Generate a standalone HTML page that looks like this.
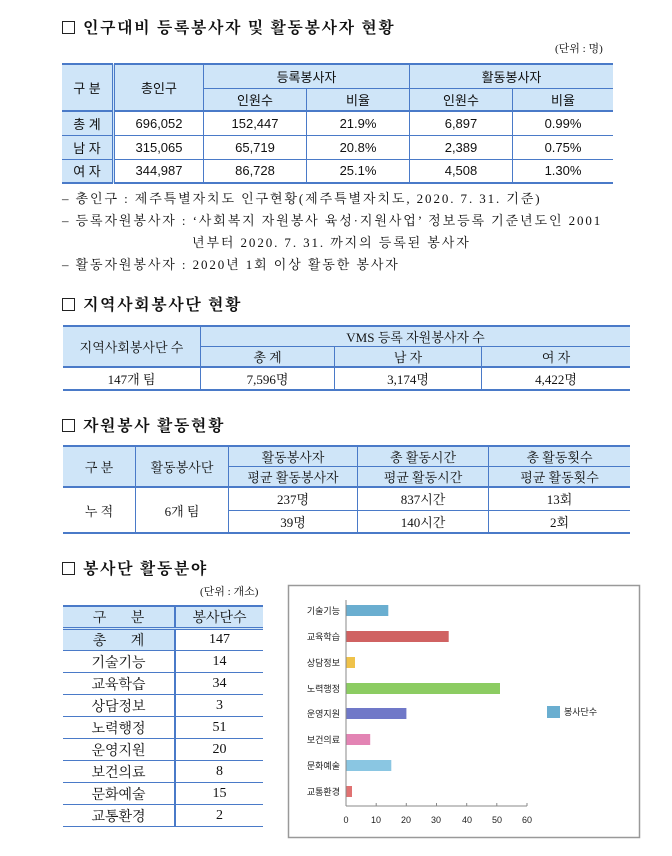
<!DOCTYPE html>
<html><head><meta charset="utf-8"><style>
body{margin:0;width:672px;height:856px;background:#fff;position:relative;overflow:hidden;font-family:"Liberation Serif","Noto Serif CJK SC",serif;color:#111}
.a{position:absolute;white-space:nowrap}
.h{font-size:16px;font-weight:bold;font-family:"Liberation Serif","Noto Serif CJK SC",serif;letter-spacing:1.6px}
.h:before{content:"";display:inline-block;width:11px;height:11px;border:1.3px solid #222;margin-right:8px;vertical-align:-1px}
table{position:absolute;border-collapse:collapse;font-size:13px;text-align:center}
td{border:1px solid #4a7ac8;padding:0}
.hd{background:#cfe5f8}
.s{font-family:"Liberation Sans","Noto Sans CJK KR",sans-serif}
.nt{font-size:13px;letter-spacing:1.9px}
</style></head><body>
<div class="a h" style="left:62px;top:15px">인구대비 등록봉사자 및 활동봉사자 현황</div>
<div class="a" style="left:555px;top:40px;font-size:11px">(단위 : 명)</div>
<table class="s" style="left:62px;top:63px;width:551px;border-top:2px solid #4a7ac8;border-bottom:2px solid #4a7ac8">
<tr style="height:24px"><td class="hd" rowspan="2" style="width:50px;border-right:3px double #4a7ac8;border-left:none">구 분</td><td class="hd" rowspan="2" style="width:88px">총인구</td><td class="hd" colspan="2">등록봉사자</td><td class="hd" colspan="2" style="border-right:none">활동봉사자</td></tr>
<tr style="height:23px"><td class="hd" style="width:102px">인원수</td><td class="hd" style="width:102px">비율</td><td class="hd" style="width:102px">인원수</td><td class="hd" style="border-right:none">비율</td></tr>
<tr style="height:24px;border-top:2px solid #4a7ac8"><td class="hd" style="border-right:3px double #4a7ac8;border-left:none">총 계</td><td>696,052</td><td>152,447</td><td>21.9%</td><td>6,897</td><td style="border-right:none">0.99%</td></tr>
<tr style="height:24px"><td class="hd" style="border-right:3px double #4a7ac8;border-left:none">남 자</td><td>315,065</td><td>65,719</td><td>20.8%</td><td>2,389</td><td style="border-right:none">0.75%</td></tr>
<tr style="height:24px"><td class="hd" style="border-right:3px double #4a7ac8;border-left:none">여 자</td><td>344,987</td><td>86,728</td><td>25.1%</td><td>4,508</td><td style="border-right:none">1.30%</td></tr>
</table>
<div class="a nt" style="left:62px;top:188px">– 총인구 : 제주특별자치도 인구현황(제주특별자치도, 2020. 7. 31. 기준)</div>
<div class="a nt" style="left:62px;top:210px">– 등록자원봉사자 : ‘사회복지 자원봉사 육성·지원사업’ 정보등록 기준년도인 2001</div>
<div class="a nt" style="left:192px;top:232px">년부터 2020. 7. 31. 까지의 등록된 봉사자</div>
<div class="a nt" style="left:62px;top:254px">– 활동자원봉사자 : 2020년 1회 이상 활동한 봉사자</div>

<div class="a h" style="left:62px;top:292px">지역사회봉사단 현황</div>
<table style="left:63px;top:325px;width:567px;border-top:2px solid #4a7ac8;border-bottom:2px solid #4a7ac8">
<tr style="height:18px"><td class="hd" rowspan="2" style="width:137px;border-left:none">지역사회봉사단 수</td><td class="hd" colspan="3" style="border-right:none">VMS 등록 자원봉사자 수</td></tr>
<tr style="height:19px"><td class="hd" style="width:133px">총 계</td><td class="hd" style="width:146px">남 자</td><td class="hd" style="border-right:none">여 자</td></tr>
<tr style="height:23px;border-top:2px solid #4a7ac8"><td style="border-left:none">147개 팀</td><td>7,596명</td><td>3,174명</td><td style="border-right:none">4,422명</td></tr>
</table>

<div class="a h" style="left:62px;top:413px">자원봉사 활동현황</div>
<table style="left:63px;top:445px;width:567px;border-top:2px solid #4a7ac8;border-bottom:2px solid #4a7ac8">
<tr style="height:19px"><td class="hd" rowspan="2" style="width:72px;border-left:none">구 분</td><td class="hd" rowspan="2" style="width:92px">활동봉사단</td><td class="hd" style="width:128px">활동봉사자</td><td class="hd" style="width:130px">총 활동시간</td><td class="hd" style="border-right:none">총 활동횟수</td></tr>
<tr style="height:19px"><td class="hd">평균 활동봉사자</td><td class="hd">평균 활동시간</td><td class="hd" style="border-right:none">평균 활동횟수</td></tr>
<tr style="height:23px;border-top:2px solid #4a7ac8"><td rowspan="2" style="border-left:none">누 적</td><td rowspan="2">6개 팀</td><td>237명</td><td>837시간</td><td style="border-right:none">13회</td></tr>
<tr style="height:23px"><td>39명</td><td>140시간</td><td style="border-right:none">2회</td></tr>
</table>

<div class="a h" style="left:62px;top:556px">봉사단 활동분야</div>
<div class="a" style="left:200px;top:583px;font-size:11px">(단위 : 개소)</div>
<table style="left:63px;top:605px;width:200px;font-size:14px;border-top:2px solid #4a7ac8">
<tr style="height:21px"><td class="hd" style="width:111px;border-left:none;border-right:2px solid #4a7ac8">구 &nbsp; &nbsp; &nbsp; 분</td><td class="hd" style="border-right:none">봉사단수</td></tr>
<tr style="height:22px;border-top:3px double #4a7ac8"><td class="hd" style="border-left:none;border-right:2px solid #4a7ac8">총 &nbsp; &nbsp; &nbsp; 계</td><td style="border-right:none">147</td></tr>
<tr style="height:22px"><td style="border-left:none;border-right:2px solid #4a7ac8">기술기능</td><td style="border-right:none">14</td></tr>
<tr style="height:22px"><td style="border-left:none;border-right:2px solid #4a7ac8">교육학습</td><td style="border-right:none">34</td></tr>
<tr style="height:22px"><td style="border-left:none;border-right:2px solid #4a7ac8">상담정보</td><td style="border-right:none">3</td></tr>
<tr style="height:22px"><td style="border-left:none;border-right:2px solid #4a7ac8">노력행정</td><td style="border-right:none">51</td></tr>
<tr style="height:22px"><td style="border-left:none;border-right:2px solid #4a7ac8">운영지원</td><td style="border-right:none">20</td></tr>
<tr style="height:22px"><td style="border-left:none;border-right:2px solid #4a7ac8">보건의료</td><td style="border-right:none">8</td></tr>
<tr style="height:22px"><td style="border-left:none;border-right:2px solid #4a7ac8">문화예술</td><td style="border-right:none">15</td></tr>
<tr style="height:22px"><td style="border-left:none;border-right:2px solid #4a7ac8">교통환경</td><td style="border-right:none">2</td></tr>
</table>

<svg class="a" style="left:0;top:0" width="672" height="856" font-family="Liberation Sans,Noto Sans CJK KR,sans-serif" font-size="9">
<rect x="288.5" y="585.5" width="351" height="252" fill="#fff" stroke="#999" stroke-width="1.5"/>
<g fill="#222" text-anchor="end">
<text x="340" y="614">기술기능</text><text x="340" y="640">교육학습</text><text x="340" y="666">상담정보</text><text x="340" y="692">노력행정</text><text x="340" y="717">운영지원</text><text x="340" y="743">보건의료</text><text x="340" y="769">문화예술</text><text x="340" y="795">교통환경</text>
</g>
<rect x="346" y="605" width="42.3" height="11" fill="#6aaed0"/>
<rect x="346" y="631" width="102.7" height="11" fill="#d06262"/>
<rect x="346" y="657" width="9" height="11" fill="#efc24a"/>
<rect x="346" y="683" width="154" height="11" fill="#8ccc62"/>
<rect x="346" y="708" width="60.4" height="11" fill="#7078c8"/>
<rect x="346" y="734" width="24.2" height="11" fill="#e384b4"/>
<rect x="346" y="760" width="45.3" height="11" fill="#8ac6e2"/>
<rect x="346" y="786" width="6" height="11" fill="#e07272"/>
<line x1="346" y1="600" x2="346" y2="806" stroke="#888"/>
<line x1="346" y1="806" x2="527" y2="806" stroke="#888"/>
<g stroke="#888"><line x1="376.2" y1="803" x2="376.2" y2="806"/><line x1="406.3" y1="803" x2="406.3" y2="806"/><line x1="436.5" y1="803" x2="436.5" y2="806"/><line x1="466.7" y1="803" x2="466.7" y2="806"/><line x1="496.8" y1="803" x2="496.8" y2="806"/><line x1="527" y1="803" x2="527" y2="806"/></g>
<g fill="#222" text-anchor="middle"><text x="346" y="823">0</text><text x="376" y="823">10</text><text x="406" y="823">20</text><text x="436" y="823">30</text><text x="467" y="823">40</text><text x="497" y="823">50</text><text x="527" y="823">60</text></g>
<rect x="547" y="706" width="13" height="12" fill="#6aaed0"/>
<text x="564" y="715" fill="#222">봉사단수</text>
</svg>
</body></html>
